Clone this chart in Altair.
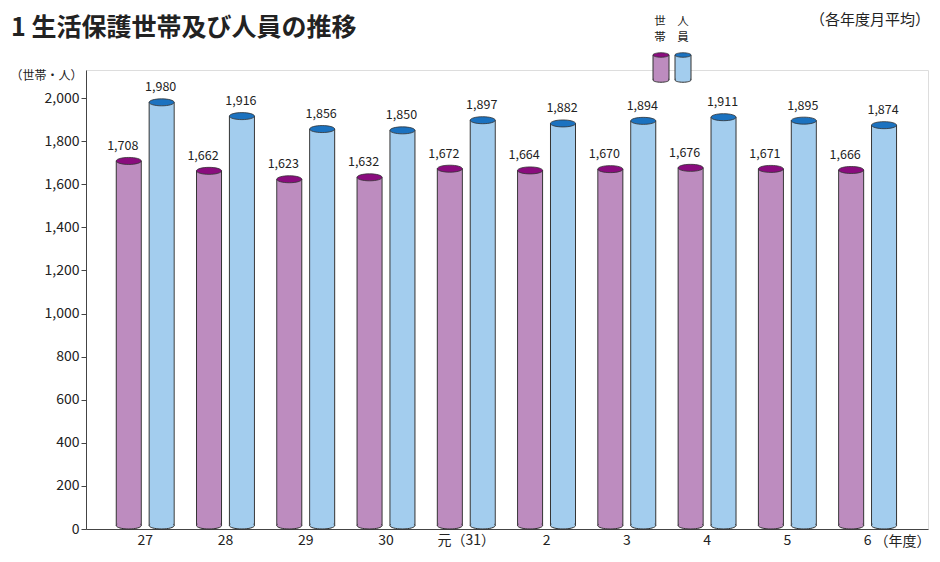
import altair as alt
import pandas as pd

# ---- data ----
years = ["27", "28", "29", "30", "元（31）", "2", "3", "4", "5", "6"]
households = [1708, 1662, 1623, 1632, 1672, 1664, 1670, 1676, 1671, 1666]
persons = [1980, 1916, 1856, 1850, 1897, 1882, 1894, 1911, 1895, 1874]
series = ["世帯", "人員"]
y_ticks = [0, 200, 400, 600, 800, 1000, 1200, 1400, 1600, 1800, 2000]

body_colors = ["#bd8cbf", "#a3cdee"]
top_colors = ["#8a0c7e", "#1b72c0"]

rows = []
for yr, h, p in zip(years, households, persons):
    rows.append({"year": yr, "series": "世帯", "value": h})
    rows.append({"year": yr, "series": "人員", "value": p})
df = pd.DataFrame(rows)

W, H = 842, 459
FONT = "Noto Sans CJK JP"
EDGE = "#333333"
TXT = "#222222"
ELLIPSE = ("M -1 0 C -1 -0.1546 -0.5523 -0.28 0 -0.28 "
           "C 0.5523 -0.28 1 -0.1546 1 0 "
           "C 1 0.1546 0.5523 0.28 0 0.28 "
           "C -0.5523 0.28 -1 0.1546 -1 0 Z")

x = alt.X("year:N", sort=years,
          scale=alt.Scale(paddingInner=0.25, paddingOuter=0.37, align=0.49),
          axis=alt.Axis(title="（年度）", labelAngle=0, ticks=False, labelPadding=4,
                        labelFontSize=14, labelColor=TXT, labelFont=FONT,
                        domainColor="#444", domainWidth=1,
                        titleX=W + 2, titleY=12, titleAlign="right", titleBaseline="middle",
                        titleFontWeight="normal", titleFontSize=14, titleColor=TXT,
                        titleFont=FONT))
xo = alt.XOffset("series:N", sort=series,
                 scale=alt.Scale(domain=series, paddingInner=0.17, paddingOuter=0))
yv = alt.Y("value:Q",
           scale=alt.Scale(domain=[0, 2130], nice=False, zero=True),
           axis=alt.Axis(values=y_ticks, format=",.0f", title="（世帯・人）",
                         titleAngle=0, titleAlign="right", titleBaseline="middle",
                         titleX=-4, titleY=5, titleFontWeight="normal",
                         titleFontSize=12, titleColor=TXT, titleFont=FONT,
                         labelFontSize=14, labelColor=TXT, labelFont=FONT,
                         tickSize=5, tickColor="#444", domainColor="#444",
                         grid=False, labelPadding=2))
body_fill = alt.Fill("series:N", scale=alt.Scale(domain=series, range=body_colors), legend=None)
top_fill = alt.Fill("series:N", scale=alt.Scale(domain=series, range=top_colors), legend=None)

base = alt.Chart(df)

bar_outline = base.mark_bar(width=25, stroke=EDGE, strokeWidth=1, y2Offset=-3.5).encode(
    x=x, xOffset=xo, y=yv, y2=alt.datum(0), fill=body_fill)
bottom_ell = base.mark_point(shape=ELLIPSE, size=625, filled=True, opacity=1,
                             stroke=EDGE, strokeWidth=1, yOffset=-3.5).encode(
    x=x, xOffset=xo, y=alt.datum(0), fill=body_fill)
bar_cover = base.mark_bar(width=23, strokeWidth=0, y2Offset=-3.5).encode(
    x=x, xOffset=xo, y=yv, y2=alt.datum(0), fill=body_fill)
top_ell = base.mark_point(shape=ELLIPSE, size=625, filled=True, opacity=1,
                          stroke=EDGE, strokeWidth=0.8).encode(
    x=x, xOffset=xo, y=yv, fill=top_fill)

lbl_h = base.transform_filter(alt.datum.series == "世帯").mark_text(
    dy=-15, dx=-6, fontSize=12.5, font=FONT, color=TXT, baseline="middle").encode(
    x=x, xOffset=xo, y=yv, text=alt.Text("value:Q", format=",.0f"))
lbl_p = base.transform_filter(alt.datum.series == "人員").mark_text(
    dy=-15, dx=-1, fontSize=12.5, font=FONT, color=TXT, baseline="middle").encode(
    x=x, xOffset=xo, y=yv, text=alt.Text("value:Q", format=",.0f"))

# ---- annotations / legend ----
dummy = alt.Data(values=[{"a": 1}])


def txt(s, px, py, size=13, align="center", weight="normal"):
    return alt.Chart(dummy).mark_text(text=s, fontSize=size, font=FONT, color=TXT,
                                      align=align, baseline="middle",
                                      fontWeight=weight).encode(
        x=alt.value(px), y=alt.value(py))


def legend_cyl(cx, body, top):
    d = alt.Chart(dummy)
    return [
        d.mark_rect(fill=body, stroke=EDGE, strokeWidth=1).encode(
            x=alt.value(cx - 8), x2=alt.value(cx + 8), y=alt.value(-15), y2=alt.value(10)),
        d.mark_point(shape=ELLIPSE, size=256, filled=True, fill=body, opacity=1,
                     stroke=EDGE, strokeWidth=1).encode(x=alt.value(cx), y=alt.value(10)),
        d.mark_rect(fill=body, strokeWidth=0).encode(
            x=alt.value(cx - 7), x2=alt.value(cx + 7), y=alt.value(-15), y2=alt.value(10)),
        d.mark_point(shape=ELLIPSE, size=256, filled=True, fill=top, opacity=1,
                     stroke=EDGE, strokeWidth=0.8).encode(x=alt.value(cx), y=alt.value(-15)),
    ]


title = txt("1 生活保護世帯及び人員の推移", -75, -42, size=25, align="left", weight="bold")
note = txt("（各年度月平均）", W + 2, -50, size=15, align="right")
leg_text = [txt("世", 574, -48, size=11.5), txt("帯", 574, -32, size=11.5),
            txt("人", 597, -48, size=11.5), txt("員", 597, -32, size=11.5)]
leg_cyls = legend_cyl(575, body_colors[0], top_colors[0]) + legend_cyl(597, body_colors[1], top_colors[1])

chart = alt.layer(
    bar_outline, bottom_ell, bar_cover, top_ell, lbl_h, lbl_p,
    title, note, *leg_text, *leg_cyls
).resolve_scale(fill="independent").properties(
    width=W, height=H,
    autosize=alt.AutoSizeParams(type="none"),
    padding={"left": 78, "top": 62, "right": 4, "bottom": 19},
).configure_view(stroke=None).configure(font=FONT)

chart.save("out.html", embed_options={"renderer": "svg", "actions": False})
